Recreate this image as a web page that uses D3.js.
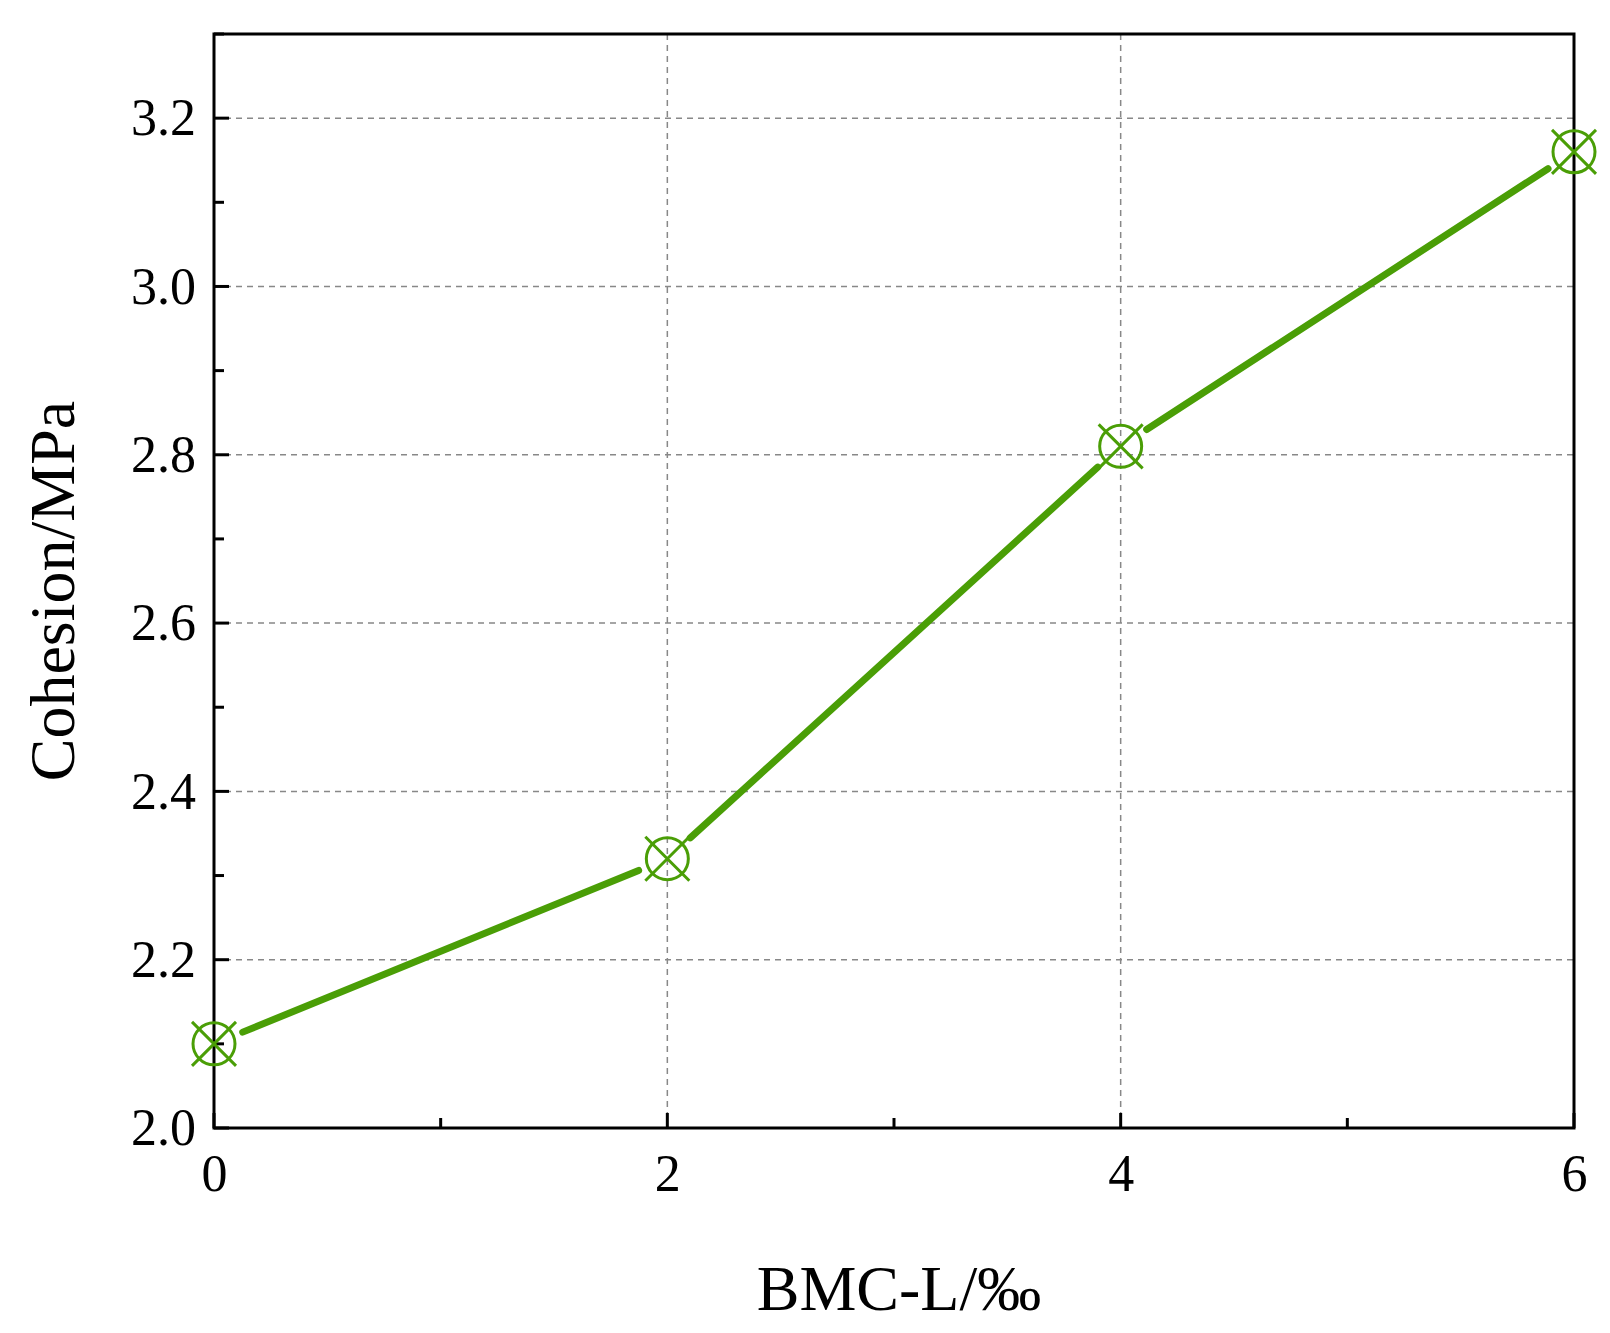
<!DOCTYPE html><html><head><script src="https://cdn.jsdelivr.net/npm/d3@7"></script>
<style>body{margin:0;background:#fff}</style></head><body><script>
const xs=[0,2,4,6];
const ys=[2.10,2.32,2.81,3.16];
const yTicks=[2.0,2.2,2.4,2.6,2.8,3.0,3.2];
const xTicks=[0,2,4,6];
const W=1610,H=1333,L=214,R=1574,T=34,B=1128,col="#4a9e06",font="Liberation Serif, Times New Roman, serif";
const svg=d3.select("body").append("svg").attr("width",W).attr("height",H);
const x=d3.scaleLinear().domain([0,6]).range([L,R]);
const y=d3.scaleLinear().domain([2.0,3.3]).range([B,T]);
svg.append("g").selectAll("line").data(yTicks.slice(1)).join("line").attr("x1",L).attr("x2",R).attr("y1",d=>y(d)).attr("y2",d=>y(d)).attr("stroke","#888").attr("stroke-width",1.5).attr("stroke-dasharray","6,5");
svg.append("g").selectAll("line").data(xTicks.slice(1,3)).join("line").attr("y1",T).attr("y2",B).attr("x1",d=>x(d)).attr("x2",d=>x(d)).attr("stroke","#888").attr("stroke-width",1.5).attr("stroke-dasharray","6,5");
const ax=svg.append("g").attr("transform",`translate(0,${B})`).call(d3.axisBottom(x).tickValues(xTicks).tickSize(0).tickPadding(26).tickFormat(d3.format("d")));
const ay=svg.append("g").attr("transform",`translate(${L},0)`).call(d3.axisLeft(y).tickValues(yTicks).tickSize(0).tickPadding(18).tickFormat(d3.format(".1f")));
[ax,ay].forEach(a=>{a.select(".domain").remove();a.selectAll("text").attr("font-family",font).attr("font-size",52).attr("fill","#000");});
svg.append("rect").attr("x",L).attr("y",T).attr("width",R-L).attr("height",B-T).attr("fill","none").attr("stroke","#000").attr("stroke-width",3);
const xt=d3.range(0,6.01,1), yt=d3.range(2.0,3.31,0.1);
svg.append("g").selectAll("line").data(xt).join("line").attr("x1",d=>x(d)).attr("x2",d=>x(d)).attr("y1",B).attr("y2",d=>B-(d%2===0?15:10)).attr("stroke","#000").attr("stroke-width",3);
svg.append("g").selectAll("line").data(yt).join("line").attr("y1",d=>y(d)).attr("y2",d=>y(d)).attr("x1",L).attr("x2",(d,i)=>L+(i%2===0?15:10)).attr("stroke","#000").attr("stroke-width",3);
const gap=31;
for(let i=0;i<xs.length-1;i++){
 const x1=x(xs[i]),y1=y(ys[i]),x2=x(xs[i+1]),y2=y(ys[i+1]);
 const dx=x2-x1,dy=y2-y1,len=Math.hypot(dx,dy),ux=dx/len,uy=dy/len;
 svg.append("line").attr("x1",x1+ux*gap).attr("y1",y1+uy*gap).attr("x2",x2-ux*gap).attr("y2",y2-uy*gap).attr("stroke",col).attr("stroke-width",7).attr("stroke-linecap","round");
}
const m=svg.append("g").selectAll("g").data(xs.map((v,i)=>[v,ys[i]])).join("g").attr("transform",d=>`translate(${x(d[0])},${y(d[1])})`);
m.append("circle").attr("r",21).attr("fill","none").attr("stroke",col).attr("stroke-width",3);
m.append("path").attr("d","M-22,-22L22,22M-22,22L22,-22").attr("stroke",col).attr("stroke-width",3);
svg.append("text").attr("x",(L+R)/2+5).attr("y",1310).attr("text-anchor","middle").attr("font-family",font).attr("font-size",64).text("BMC-L/‰");
svg.append("text").attr("transform",`translate(74,${(T+B)/2+10}) rotate(-90)`).attr("text-anchor","middle").attr("font-family",font).attr("font-size",64).text("Cohesion/MPa");
</script></body></html>
